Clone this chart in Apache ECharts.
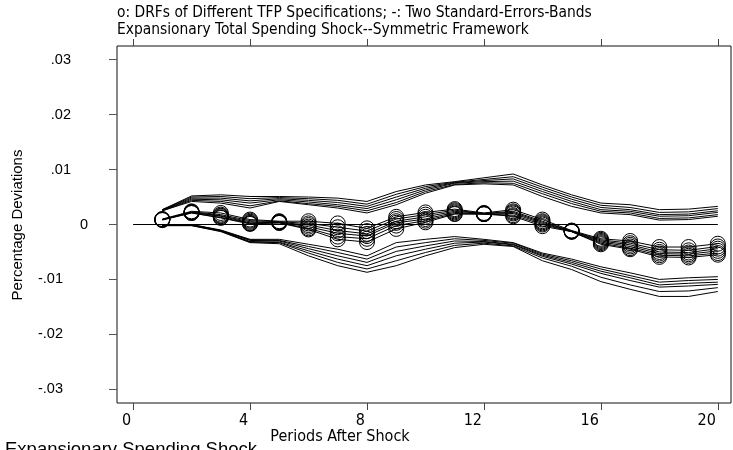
<!DOCTYPE html>
<html>
<head>
<meta charset="utf-8">
<script src="https://cdn.jsdelivr.net/npm/echarts@6/dist/echarts.min.js"></script>
<style>html,body{margin:0;padding:0;background:#fff;}#c{width:733px;height:450px;}</style>
</head>
<body>
<div id="c"></div>
<script>
const titleLine1 = 'o: DRFs of Different TFP Specifications; -: Two Standard-Errors-Bands';
const titleLine2 = 'Expansionary Total Spending Shock--Symmetric Framework';
const xTitle = 'Periods After Shock';
const yTitle = 'Percentage Deviations';
const footer = 'Expansionary Spending Shock';
const xTicks = [0, 4, 8, 12, 16, 20];
const yTicks = [-0.03, -0.02, -0.01, 0, 0.01, 0.02, 0.03];
const yTickLabels = ['-.03', '-.02', '-.01', '0', '.01', '.02', '.03'];
const periods = [1, 2, 3, 4, 5, 6, 7, 8, 9, 10, 11, 12, 13, 14, 15, 16, 17, 18, 19, 20];
const zeroLineX = [0, 20];

// DRFs of the different TFP specifications
const drfA = [0.0010, 0.0024, 0.0021, 0.0009, 0.0006, 0.0006, 0.0002, -0.0007, 0.0014, 0.0022, 0.0028, 0.0021, 0.0027, 0.0009, -0.0011, -0.0026, -0.0030, -0.0041, -0.0041, -0.0035];
const drfB = [0.0009, 0.0023, 0.0018, 0.0007, 0.0005, 0.0002, -0.0005, -0.0012, 0.0010, 0.0018, 0.0026, 0.0020, 0.0024, 0.0006, -0.0012, -0.0028, -0.0034, -0.0046, -0.0047, -0.0040];
const drfC = [0.0009, 0.0022, 0.0016, 0.0005, 0.0004, -0.0001, -0.0011, -0.0017, 0.0006, 0.0014, 0.0024, 0.0020, 0.0022, 0.0004, -0.0012, -0.0030, -0.0037, -0.0050, -0.0051, -0.0044];
const drfD = [0.0009, 0.0022, 0.0015, 0.0003, 0.0004, -0.0004, -0.0016, -0.0021, 0.0003, 0.0010, 0.0022, 0.0019, 0.0020, 0.0002, -0.0013, -0.0032, -0.0040, -0.0053, -0.0054, -0.0048];
const drfE = [0.0009, 0.0021, 0.0013, 0.0002, 0.0003, -0.0007, -0.0022, -0.0026, -0.0002, 0.0007, 0.0020, 0.0019, 0.0017, 0.0000, -0.0013, -0.0034, -0.0043, -0.0056, -0.0057, -0.0052];
const drfF = [0.0008, 0.0021, 0.0012, 0.0001, 0.0003, -0.0009, -0.0027, -0.0032, -0.0008, 0.0004, 0.0019, 0.0019, 0.0015, -0.0003, -0.0013, -0.0036, -0.0045, -0.0059, -0.0060, -0.0055];

// Upper two-standard-error bands
const upA = [0.0027, 0.0052, 0.0054, 0.0051, 0.0051, 0.0050, 0.0048, 0.0042, 0.0060, 0.0072, 0.0078, 0.0085, 0.0092, 0.0072, 0.0054, 0.0039, 0.0036, 0.0027, 0.0028, 0.0033];
const upB = [0.0027, 0.0050, 0.0051, 0.0047, 0.0049, 0.0047, 0.0044, 0.0037, 0.0055, 0.0069, 0.0077, 0.0082, 0.0087, 0.0068, 0.0050, 0.0035, 0.0031, 0.0022, 0.0023, 0.0029];
const upC = [0.0026, 0.0048, 0.0048, 0.0043, 0.0047, 0.0044, 0.0040, 0.0033, 0.0050, 0.0066, 0.0076, 0.0080, 0.0083, 0.0064, 0.0046, 0.0031, 0.0027, 0.0018, 0.0019, 0.0025];
const upD = [0.0026, 0.0046, 0.0045, 0.0039, 0.0045, 0.0041, 0.0036, 0.0029, 0.0045, 0.0063, 0.0075, 0.0078, 0.0079, 0.0060, 0.0042, 0.0027, 0.0024, 0.0015, 0.0016, 0.0022];
const upE = [0.0025, 0.0044, 0.0042, 0.0034, 0.0043, 0.0038, 0.0033, 0.0025, 0.0040, 0.0060, 0.0073, 0.0076, 0.0075, 0.0056, 0.0038, 0.0024, 0.0021, 0.0011, 0.0012, 0.0018];
const upF = [0.0025, 0.0042, 0.0039, 0.0030, 0.0042, 0.0036, 0.0030, 0.0021, 0.0036, 0.0057, 0.0072, 0.0074, 0.0072, 0.0051, 0.0033, 0.0021, 0.0018, 0.0008, 0.0009, 0.0015];

// Lower two-standard-error bands
const loA = [-0.0001, 0.0000, -0.0010, -0.0027, -0.0027, -0.0036, -0.0045, -0.0057, -0.0033, -0.0027, -0.0022, -0.0027, -0.0033, -0.0052, -0.0063, -0.0077, -0.0088, -0.0100, -0.0097, -0.0095];
const loB = [-0.0001, 0.0000, -0.0011, -0.0028, -0.0029, -0.0040, -0.0051, -0.0063, -0.0041, -0.0033, -0.0026, -0.0029, -0.0034, -0.0054, -0.0066, -0.0081, -0.0093, -0.0105, -0.0102, -0.0100];
const loC = [-0.0001, -0.0001, -0.0011, -0.0029, -0.0030, -0.0044, -0.0057, -0.0069, -0.0049, -0.0039, -0.0030, -0.0031, -0.0036, -0.0056, -0.0069, -0.0085, -0.0097, -0.0110, -0.0107, -0.0105];
const loD = [-0.0001, -0.0001, -0.0012, -0.0031, -0.0032, -0.0048, -0.0063, -0.0075, -0.0057, -0.0045, -0.0034, -0.0032, -0.0037, -0.0058, -0.0072, -0.0089, -0.0102, -0.0114, -0.0112, -0.0109];
const loE = [-0.0002, -0.0002, -0.0012, -0.0032, -0.0033, -0.0052, -0.0069, -0.0081, -0.0066, -0.0051, -0.0038, -0.0034, -0.0039, -0.0061, -0.0076, -0.0096, -0.0110, -0.0122, -0.0121, -0.0115];
const loF = [-0.0002, -0.0002, -0.0013, -0.0033, -0.0035, -0.0057, -0.0075, -0.0087, -0.0075, -0.0057, -0.0042, -0.0036, -0.0040, -0.0066, -0.0082, -0.0104, -0.0118, -0.0131, -0.0131, -0.0122];

const drfs = [drfA, drfB, drfC, drfD, drfE, drfF];
const bands = [upA, upB, upC, upD, upE, upF, loA, loB, loC, loD, loE, loF];

const narrow = '"Liberation Sans Narrow", "DejaVu Sans Condensed", "Liberation Sans", sans-serif';
const sans = '"Liberation Sans", Arial, sans-serif';
const toPairs = arr => periods.map((p, i) => [p, arr[i]]);

const series = [];
series.push({
  type: 'line', data: zeroLineX.map(x => [x, 0]), symbol: 'none', silent: true,
  lineStyle: { color: '#000', width: 1 }, z: 1
});
bands.forEach(b => series.push({
  type: 'line', data: toPairs(b), symbol: 'none', silent: true,
  lineStyle: { color: '#000', width: 1 }, z: 2
}));
drfs.forEach(d => series.push({
  type: 'line', data: toPairs(d), symbol: 'circle', symbolSize: 15, silent: true,
  lineStyle: { color: '#000', width: 1 },
  itemStyle: { color: 'rgba(0,0,0,0)', borderColor: '#000', borderWidth: 1 }, z: 3
}));

const chart = echarts.init(document.getElementById('c'), null, { renderer: 'canvas' });
chart.setOption({
  animation: false,
  backgroundColor: '#fff',
  title: {
    text: titleLine1 + '\n' + titleLine2,
    left: 117, top: 4, padding: 0,
    textStyle: { fontFamily: narrow, fontSize: 15.4, fontWeight: 'normal', color: '#000', lineHeight: 17 }
  },
  grid: { left: 117, right: 2, top: 46, bottom: 47, show: true, borderColor: '#111', borderWidth: 1, backgroundColor: 'transparent' },
  xAxis: [{
    type: 'value', min: -0.55, max: 20.45, position: 'bottom',
    axisLine: { show: false, onZero: false }, splitLine: { show: false },
    axisTick: { show: true, inside: false, length: 7, customValues: xTicks, lineStyle: { color: '#444', width: 1 } },
    axisLabel: { show: true, customValues: xTicks, align: 'right', padding: [0, 2, 0, 0], margin: 10, fontFamily: narrow, fontSize: 16, color: '#000' }
  }, {
    type: 'value', min: -0.55, max: 20.45, position: 'top',
    axisLine: { show: false, onZero: false }, splitLine: { show: false },
    axisTick: { show: true, inside: false, length: 7, customValues: xTicks, lineStyle: { color: '#444', width: 1 } },
    axisLabel: { show: false }
  }],
  yAxis: {
    type: 'value', min: -0.0325, max: 0.0325, position: 'left',
    axisLine: { show: false, onZero: false }, splitLine: { show: false },
    axisTick: { show: true, inside: false, length: 8, customValues: yTicks, lineStyle: { color: '#555', width: 1 } },
    axisLabel: {
      show: true, customValues: yTicks, align: 'right', margin: 29, fontFamily: sans, fontSize: 14.5, color: '#000',
      formatter: v => {
        const i = yTicks.findIndex(t => Math.abs(t - v) < 1e-9);
        const s = i >= 0 ? yTickLabels[i] : '';
        if (Math.abs(v) < 1e-9) return '{z|' + s + '}';
        return v > 0 ? '{p|' + s + '}' : '{n|' + s + '}';
      },
      rich: {
        z: { fontFamily: sans, fontSize: 14.5, color: '#000' },
        p: { fontFamily: sans, fontSize: 14.5, color: '#000', padding: [0, 17, 0, 0] },
        n: { fontFamily: sans, fontSize: 14.5, color: '#000', padding: [0, 25, 0, 0] }
      }
    }
  },
  graphic: [
    { type: 'text', left: 10, top: 'middle', rotation: Math.PI / 2,
      style: { text: yTitle, fontFamily: sans, fontSize: 15, fill: '#000' } },
    { type: 'text', x: 340, y: 437,
      style: { text: xTitle, fontFamily: narrow, fontSize: 16, fill: '#000', textAlign: 'center', textVerticalAlign: 'middle' } },
    { type: 'text', x: 5, y: 440,
      style: { text: footer, fontFamily: sans, fontSize: 18.5, fill: '#000', textAlign: 'left', textVerticalAlign: 'top' } }
  ],
  series: series
});
</script>
</body>
</html>
